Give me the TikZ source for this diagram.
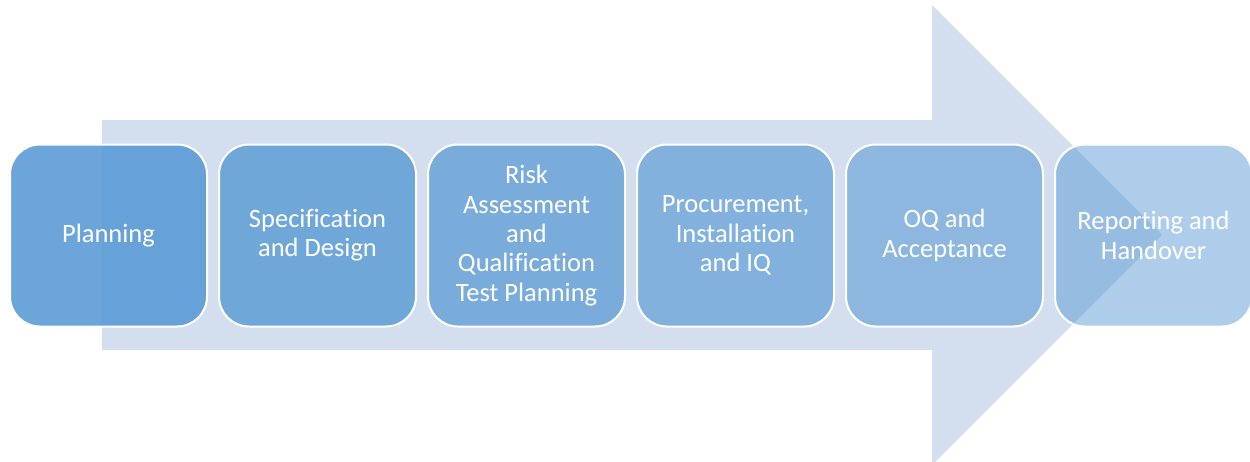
\documentclass[tikz,border=0pt]{standalone}
\usepackage{fontspec}
\setmainfont[Ligatures=NoCommon]{Carlito}
\usetikzlibrary{positioning}
\definecolor{FondoFlecha}{RGB}{211,222,239}
\definecolor{AzulEtapa}{RGB}{91,155,213}
\tikzstyle{Etapa}=[rectangle, rounded corners=30pt, draw=white, line width=2pt, fill=AzulEtapa, text=white, text opacity=1, minimum width=197pt, minimum height=182pt, outer sep=0pt, align=center, font=\fontsize{26.5}{29.3}\selectfont]

\begin{document}
\begin{tikzpicture}[x=1pt, y=-1pt]
	\useasboundingbox (0,0) rectangle (1250,461);

	%Flecha de fondo
	\fill[FondoFlecha] (102,120) -- (932,120) -- (932,5) -- (1162,235) -- (932,465) -- (932,350) -- (102,350) -- cycle;

	%Etapas
	\node[Etapa, fill opacity=0.9]	(planning)		at (108.5,235.5)			{Planning};
	\node[Etapa, fill opacity=0.82]	(design)		[right=12pt of planning]	{Specification\\and Design};
	\node[Etapa, fill opacity=0.74]	(risk)			[right=12pt of design]		{Risk\\Assessment\\and\\Qualification\\Test Planning};
	\node[Etapa, fill opacity=0.66]	(procurement)	[right=12pt of risk]		{Procurement,\\Installation\\and IQ};
	\node[Etapa, fill opacity=0.58]	(oq)			[right=12pt of procurement]	{OQ and\\Acceptance};
	\node[Etapa, fill opacity=0.5]	(handover)		[right=12pt of oq]			{Reporting and\\Handover};

\end{tikzpicture}
\end{document}
